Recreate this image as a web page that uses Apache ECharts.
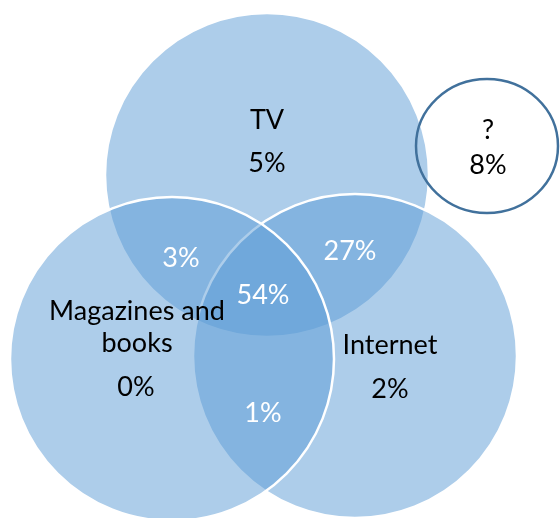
<!DOCTYPE html>
<html>
<head>
<meta charset="utf-8">
<script src="https://cdn.jsdelivr.net/npm/echarts@6/dist/echarts.min.js"></script>
<style>
  html, body { margin: 0; padding: 0; background: #fff; }
  #chart { width: 560px; height: 518px; }
</style>
</head>
<body>
<div id="chart"></div>
<script>
// Media sources: share of respondents in each Venn region (percent)
const setNames = ['TV', 'Internet', 'Magazines and\nbooks'];
const setOnlyShares = [5, 2, 0];
const overlapNames = ['TV & Magazines', 'TV & Internet', 'All three', 'Internet & Magazines'];
const overlapShares = [3, 27, 54, 1];
const outsideName = '?';
const outsideShare = 8;

// Circle layout in plot units (drawing order: TV, Internet, Magazines)
const circleLayout = [
  { cx: 267, cy: 175, r: 162 },
  { cx: 355, cy: 356, r: 162 },
  { cx: 172, cy: 359, r: 162 }
];
const outsideLayout = { cx: 487, cy: 146, rx: 71, ry: 67 };

// Label anchor points in plot units
const setNamePos = [[267, 120], [390, 345], [137, 327]];
const setSharePos = [[267, 163], [390, 389], [136, 387]];
const overlapPos = [[181, 258], [350, 251], [263, 295], [263, 413]];
const outsideNamePos = [488, 130];
const outsideSharePos = [488, 165];

const FONT = 'Lato, "Liberation Sans", sans-serif';
const FS = 27;

function textEl(api, pos, text, color, lineHeight) {
  const p = api.coord(pos);
  const style = {
    text: text,
    x: p[0],
    y: p[1],
    fill: color,
    fontSize: FS,
    fontFamily: FONT,
    align: 'center',
    verticalAlign: 'middle',
    textAlign: 'center',
    textVerticalAlign: 'middle'
  };
  if (lineHeight) style.lineHeight = lineHeight;
  return { type: 'text', z2: 10, style: style };
}

const circleData = setNames.map((n, i) => ({ name: n.replace('\n', ' '), value: [circleLayout[i].cx, circleLayout[i].cy, circleLayout[i].r] }));

const chart = echarts.init(document.getElementById('chart'), null, { renderer: 'canvas' });
chart.setOption({
  animation: false,
  backgroundColor: '#ffffff',
  grid: { left: 0, right: 0, top: 0, bottom: 0 },
  xAxis: { type: 'value', min: 0, max: 560, show: false },
  yAxis: { type: 'value', min: 0, max: 518, inverse: true, show: false },
  series: [
    {
      type: 'custom',
      name: 'sets',
      data: circleData,
      renderItem: function (params, api) {
        const c = api.coord([api.value(0), api.value(1)]);
        const r = api.size([api.value(2), 0])[0];
        return {
          type: 'circle',
          z2: params.dataIndex,
          shape: { cx: c[0], cy: c[1], r: r },
          style: { fill: 'rgba(91,155,213,0.5)', stroke: '#ffffff', lineWidth: 2.5 }
        };
      }
    },
    {
      type: 'custom',
      name: 'outside',
      data: [{ name: outsideName, value: [outsideLayout.cx, outsideLayout.cy, outsideLayout.rx, outsideLayout.ry] }],
      z: 3,
      renderItem: function (params, api) {
        const c = api.coord([api.value(0), api.value(1)]);
        const s = api.size([api.value(2), api.value(3)]);
        return {
          type: 'ellipse',
          shape: { cx: c[0], cy: c[1], rx: s[0], ry: s[1] },
          style: { fill: 'none', stroke: '#41719C', lineWidth: 2.5 }
        };
      }
    },
    {
      type: 'custom',
      name: 'labels',
      z: 4,
      data: [0],
      renderItem: function (params, api) {
        const children = [];
        setNames.forEach((n, i) => {
          children.push(textEl(api, setNamePos[i], n, '#000000', 32));
          children.push(textEl(api, setSharePos[i], setOnlyShares[i] + '%', '#000000'));
        });
        overlapShares.forEach((v, i) => {
          children.push(textEl(api, overlapPos[i], v + '%', '#ffffff'));
        });
        children.push(textEl(api, outsideNamePos, outsideName, '#000000'));
        children.push(textEl(api, outsideSharePos, outsideShare + '%', '#000000'));
        return { type: 'group', children: children };
      }
    }
  ]
});
</script>
</body>
</html>
